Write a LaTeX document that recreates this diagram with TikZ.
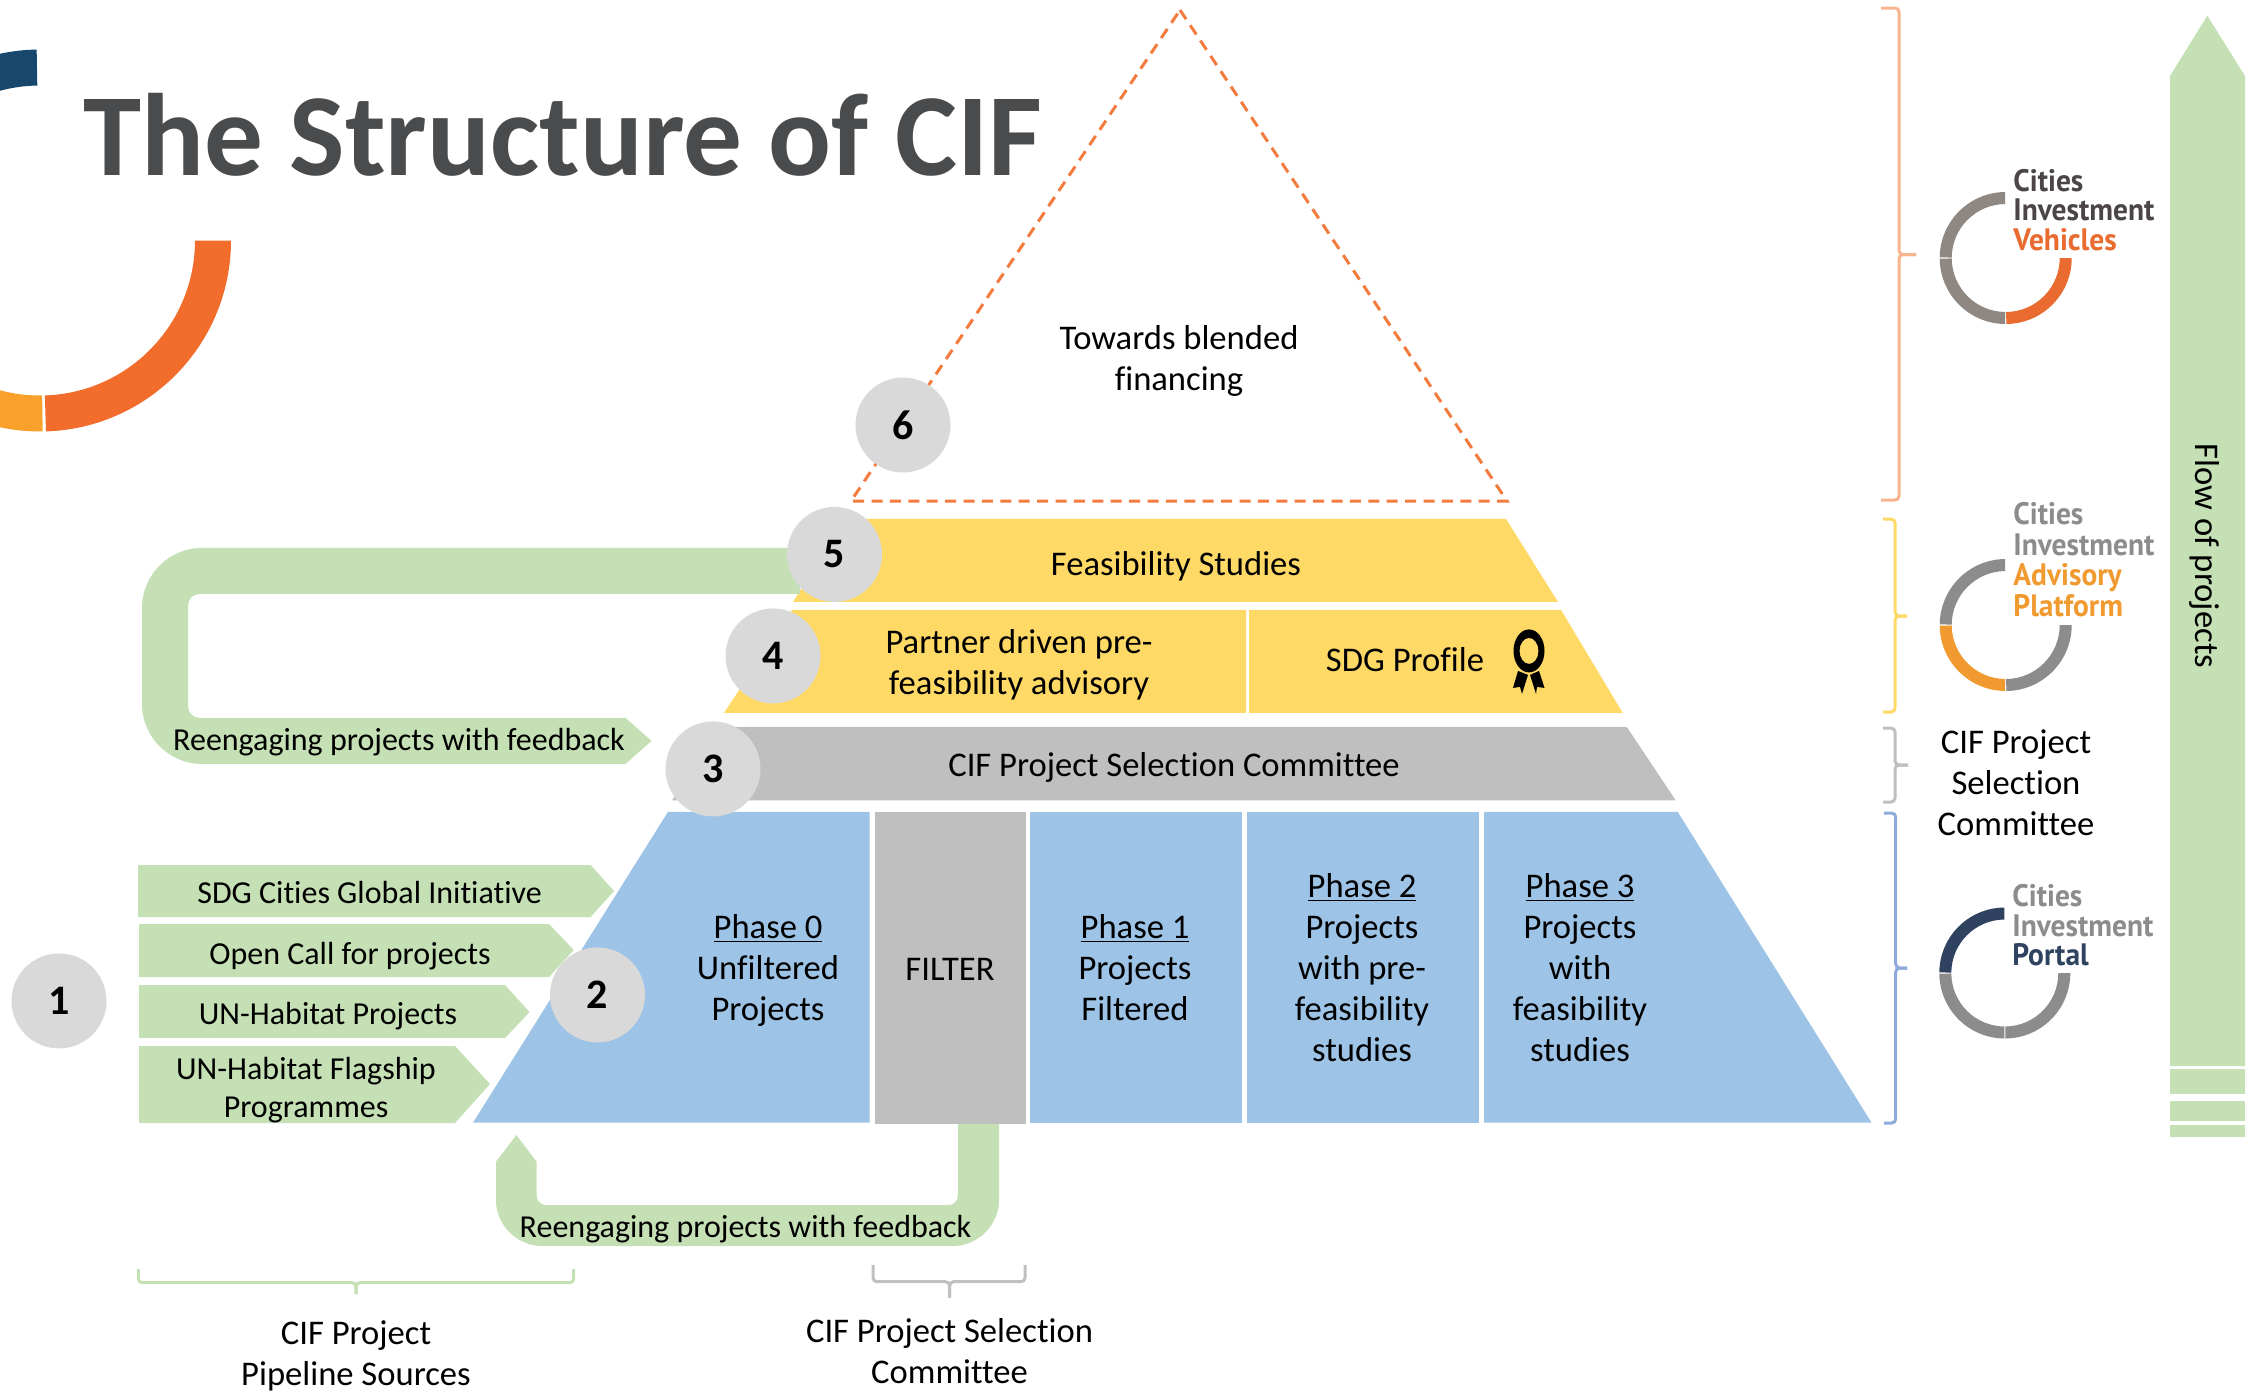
\documentclass[tikz,border=0pt]{standalone}
\usepackage{fontspec}
\setmainfont[Ligatures=NoCommon]{Carlito}
\newfontfamily\logofont[FakeStretch=0.95]{PT Sans}
\definecolor{grn}{HTML}{C5E0B4}
\definecolor{yel}{HTML}{FFD966}
\definecolor{blu}{HTML}{9DC3E6}
\definecolor{gry}{HTML}{BFBFBF}
\definecolor{circ}{HTML}{D9D9D9}
\definecolor{ttl}{HTML}{4A4B4D}
\definecolor{dashor}{HTML}{F47B3E}
\definecolor{bror}{HTML}{F8B48E}
\definecolor{bryl}{HTML}{FFD966}
\definecolor{brgr}{HTML}{C0C0C0}
\definecolor{brbl}{HTML}{8FAADC}
\definecolor{lgdark}{HTML}{4B4645}
\definecolor{lggr}{HTML}{8C8C8C}
\definecolor{lgbr}{HTML}{8F8781}
\definecolor{lgor}{HTML}{E96B30}
\definecolor{lgam}{HTML}{F09A30}
\definecolor{lgnv}{HTML}{2F4260}
\definecolor{dorange}{HTML}{F26C2C}
\definecolor{damber}{HTML}{F9A12B}
\definecolor{dblue}{HTML}{17476C}
\tikzset{
  x=0.5pt,y=-0.5pt,
  lbl/.style={inner sep=0pt,align=center,text=black,font=\fontsize{17.3}{20.5}\selectfont},
  lblsm/.style={inner sep=0pt,align=center,text=black,font=\fontsize{16}{19}\selectfont},
  num/.style={circle,fill=circ,minimum size=47.5pt,inner sep=0pt,font=\fontsize{21}{21}\selectfont\bfseries,text=black},
  logotxt/.style={inner sep=0pt,anchor=base west,font=\fontsize{15.5}{15.5}\logofont\bfseries},
  bracestyle/.style={line width=1.5pt,rounded corners=2pt},
  lifted/.style={yshift=-0.45pt}
}
\newcommand{\ringarc}[7]{%
  \begin{scope}[shift={(#1,#2)},y=0.5pt]
    \fill[#7] (#5:#3) arc (#5:#6:#3) -- (#6:#4) arc (#6:#5:#4) -- cycle;
  \end{scope}}
\newcommand{\sidebrace}[7]{%
  \draw[bracestyle,#7] (#1,#4) -- (#2,#4) -- (#2,#5) -- (#3,#5);
  \draw[bracestyle,#7] (#3,#5) -- (#2,#5) -- (#2,#6) -- (#1,#6);}
\newcommand{\lowbrace}[7]{%
  \draw[bracestyle,#7] (#1,#4) -- (#1,#5) -- (#2,#5) -- (#2,#6);
  \draw[bracestyle,#7] (#2,#6) -- (#2,#5) -- (#3,#5) -- (#3,#4);}
\begin{document}
\begin{tikzpicture}
\useasboundingbox (0,0) rectangle (2259,1393);
\fill[white] (0,0) rectangle (2259,1393);
% left donut
\begin{scope}
  \clip (0,0) rectangle (2259,1393);
  \ringarc{40}{240.5}{191}{155}{91}{135}{dblue}
  \ringarc{40}{240.5}{191}{155}{0}{-88.2}{dorange}
  \ringarc{40}{240.5}{191}{155}{-89.2}{-135}{damber}
\end{scope}
\node[anchor=base west,inner sep=0pt,text=ttl,font=\fontsize{58.6}{58.6}\selectfont\bfseries] (title) at (83,175) {The Structure of CIF};
% dashed triangle
\draw[dashor,line width=1.5pt,dash pattern=on 5.5pt off 3.7pt] (1180,10) -- (1507,501) -- (851,501) -- cycle;
\node[lbl] (blend) at (1179,361) {Towards blended\\financing};
\begin{scope}[lifted]
% feasibility
\fill[yel] (845,518) -- (1506,518) -- (1558,601) -- (793,601) -- cycle;
\node[lbl] (feas) at (1176,565) {Feasibility Studies};
% row 4
\fill[yel] (792,609) -- (1246,609) -- (1246,712) -- (724,712) -- cycle;
\fill[yel] (1249,609) -- (1561,609) -- (1622.7,712) -- (1249,712) -- cycle;
\node[lbl] (partner) at (1019,664) {Partner driven pre-\\feasibility advisory};
\node[lbl] (sdg) at (1405,659) {SDG Profile};
% ribbon
\fill[black,even odd rule] (1529,650) ellipse [x radius=15.5,y radius=21.5] (1529,650) ellipse [x radius=9.5,y radius=13];
\fill[black] (1518,670) -- (1513,687) -- (1520,686) -- (1522,693) -- (1528,674) -- cycle;
\fill[black] (1539,670) -- (1544.5,687) -- (1537,686) -- (1536,693) -- (1530,674) -- cycle;
% selection bar
\fill[gry] (721,726) -- (1626.7,726) -- (1675.7,799.5) -- (672,799.5) -- cycle;
\node[lbl] (sel) at (1174,767) {CIF Project Selection Committee};
% green loop
\fill[grn] (800,547) -- (202,547) .. controls (169,547) and (142,574) .. (142,607) -- (142,703) .. controls (142,736) and (169,763) .. (202,763) -- (625.5,763) -- (651.5,740) -- (625.5,717) -- (200,717) .. controls (193,717) and (188,712) .. (188,705) -- (188,605) .. controls (188,598) and (193,593) .. (200,593) -- (800,593) -- cycle;
\node[lblsm] (re1) at (399,741) {Reengaging projects with feedback};
\end{scope}
\fill[grn] (496,1200) .. controls (496,1225) and (517,1246) .. (542,1246) -- (953,1246) .. controls (978,1246) and (999,1225) .. (999,1200) -- (999,1120) -- (958,1120) -- (958,1195) .. controls (958,1201) and (954,1205) .. (948,1205) -- (546,1205) .. controls (541,1205) and (536.6,1201) .. (536.6,1195) -- (536.6,1161.7) -- (516.4,1135) -- (496,1161.7) -- cycle;
\node[lblsm] (re2) at (745.5,1229) {Reengaging projects with feedback};
\begin{scope}[lifted]
% blue layer
\fill[blu] (668,811) -- (869.6,811) -- (869.6,1121.7) -- (473,1121.7) -- cycle;
\fill[gry] (875,811) rectangle (1026,1122.7);
\fill[blu] (1030,811) rectangle (1242,1121.7);
\fill[blu] (1247,811) rectangle (1479,1121.7);
\fill[blu] (1484,811) -- (1677.7,811) -- (1871.5,1121.7) -- (1484,1121.7) -- cycle;
\node[lbl] (p0) at (768,969.5) {\underline{Phase 0}\\Unfiltered\\Projects};
\node[lbl] (filter) at (950,968) {FILTER};
\node[lbl] (p1) at (1135,967) {\underline{Phase 1}\\Projects\\Filtered};
\node[lbl] (p2) at (1362,966.5) {\underline{Phase 2}\\Projects\\with pre-\\feasibility\\studies};
\node[lbl] (p3) at (1580,966.5) {\underline{Phase 3}\\Projects\\with\\feasibility\\studies};
\end{scope}
% sources
\fill[grn] (138,865) -- (590.6,865) -- (614,891) -- (590.6,917) -- (138,917) -- cycle;
\fill[grn] (139,924) -- (549,924) -- (573.7,950) -- (549,977) -- (139,977) -- cycle;
\fill[grn] (139,985) -- (505,985) -- (529.5,1012) -- (505,1038) -- (139,1038) -- cycle;
\fill[grn] (139,1046) -- (455,1046) -- (490,1084) -- (455,1123) -- (139,1123) -- cycle;
\node[lblsm] (s1) at (369.6,892) {SDG Cities Global Initiative};
\node[lblsm] (s2) at (350,956) {Open Call for projects};
\node[lblsm] (s3) at (328,1016) {UN-Habitat Projects};
\node[lblsm] (s4) at (306,1090) {UN-Habitat Flagship\\Programmes};
% number circles
\begin{scope}[lifted]
\node[num] (c1) at (59,1000) {1};
\node[num] (c2) at (597.5,994) {2};
\node[num] (c3) at (713,768) {3};
\node[num] (c4) at (773,655) {4};
\node[num] (c5) at (834.5,553.5) {5};
\end{scope}
\node[num] (c6) at (903,425) {6};
% lower braces
\lowbrace{138.4}{356}{573.7}{1269}{1282.7}{1294}{grn}
\lowbrace{873}{949.6}{1025}{1265}{1281.7}{1297.7}{brgr}
\node[lbl] (capA) at (356,1356) {CIF Project\\Pipeline Sources};
\node[lbl] (capB) at (949.5,1351) {CIF Project Selection\\Committee};
% side braces
\sidebrace{1881}{1899}{1916}{8}{254.5}{500}{bror}
\sidebrace{1883}{1895}{1907}{519}{616}{712}{bryl}
\sidebrace{1883}{1895}{1908}{728}{765}{802}{brgr}
\sidebrace{1884}{1895.7}{1907}{813}{968}{1123}{brbl}
\node[lbl] (capC) at (2016,783) {CIF Project\\Selection\\Committee};
% flow arrow
\fill[grn] (2170,1066) -- (2170,76) -- (2207.3,15.6) -- (2245,76) -- (2245,1066) -- cycle;
\fill[grn] (2170,1069) rectangle (2245,1094);
\fill[grn] (2170,1101) rectangle (2245,1121);
\fill[grn] (2170,1125) rectangle (2245,1137);
\node[lbl,rotate=-90] (flow) at (2205,556) {Flow of projects};
% logos
\ringarc{2005.7}{258}{66}{54}{90.5}{179.5}{lgbr}
\ringarc{2005.7}{258}{66}{54}{180.5}{269.5}{lgbr}
\ringarc{2005.7}{258}{66}{54}{270.5}{360}{lgor}
\node[logotxt,text=lgdark] (v1) at (2013,191) {Cities};
\node[logotxt,text=lgdark] (v2) at (2013,220) {Investment};
\node[logotxt,text=lgor] (v3) at (2013,250) {Vehicles};
\ringarc{2005.7}{625}{66}{54}{90.5}{179.5}{lggr}
\ringarc{2005.7}{625}{66}{54}{180.5}{269.5}{lgam}
\ringarc{2005.7}{625}{66}{54}{270.5}{360}{lggr}
\node[logotxt,text=lggr] (a1) at (2013,524.5) {Cities};
\node[logotxt,text=lggr] (a2) at (2013,555) {Investment};
\node[logotxt,text=lgam] (a3) at (2013,585) {Advisory};
\node[logotxt,text=lgam] (a4) at (2013,616) {Platform};
\ringarc{2004.8}{973}{65.5}{53.5}{90.5}{179.5}{lgnv}
\ringarc{2004.8}{973}{65.5}{53.5}{180.5}{269.5}{lggr}
\ringarc{2004.8}{973}{65.5}{53.5}{270.5}{360}{lggr}
\node[logotxt,text=lggr] (b1) at (2012,906) {Cities};
\node[logotxt,text=lggr] (b2) at (2012,936) {Investment};
\node[logotxt,text=lgnv] (b3) at (2012,965) {Portal};
\end{tikzpicture}
\end{document}
